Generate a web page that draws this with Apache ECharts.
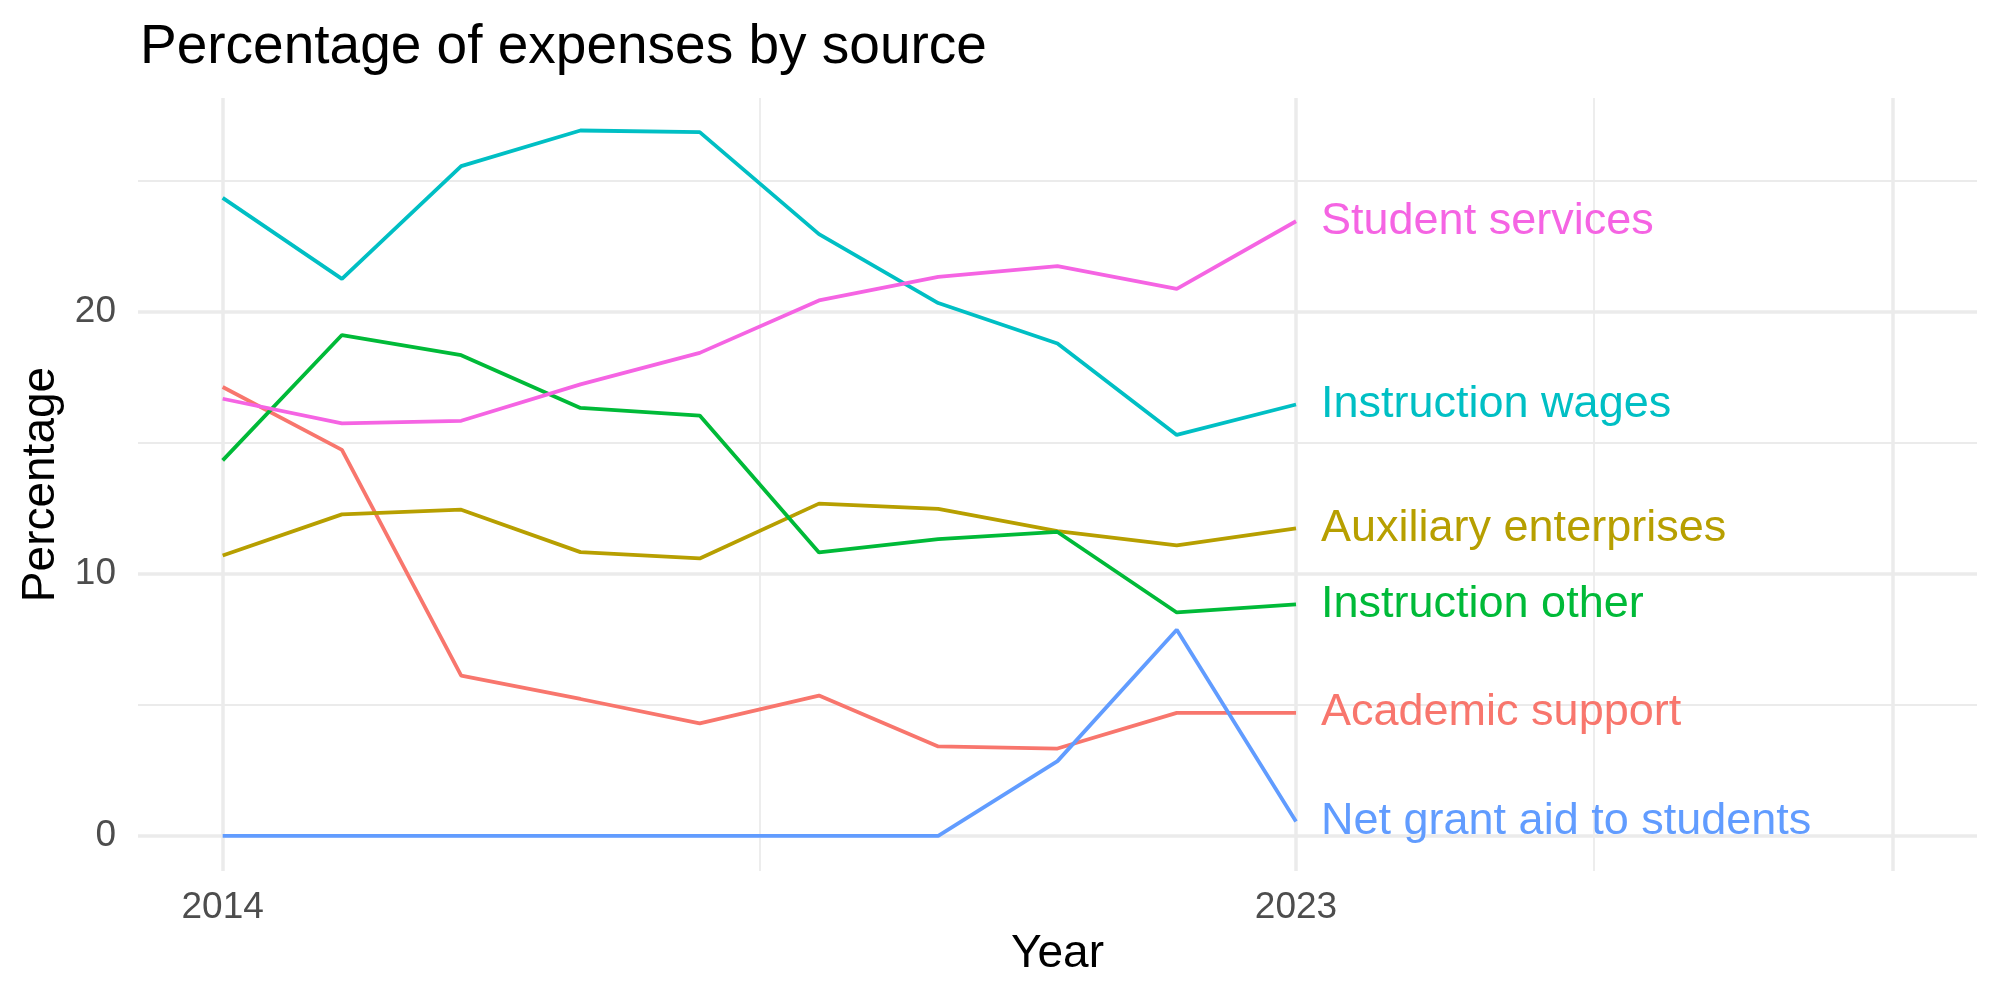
<!DOCTYPE html>
<html>
<head>
<meta charset="utf-8">
<script src="https://cdn.jsdelivr.net/npm/echarts@6/dist/echarts.min.js"></script>
<style>
  html, body { margin: 0; padding: 0; background: #fff; }
  #chart { width: 2000px; height: 1000px; }
</style>
</head>
<body>
<div id="chart"></div>
<script>
// data
var years = [2014, 2015, 2016, 2017, 2018, 2019, 2020, 2021, 2022, 2023];
var academicSupport = [17.12, 14.72, 6.11, 5.22, 4.29, 5.35, 3.41, 3.33, 4.69, 4.69];
var auxiliaryEnterprises = [10.69, 12.26, 12.44, 10.82, 10.58, 12.67, 12.47, 11.62, 11.08, 11.73];
var instructionOther = [14.32, 19.10, 18.33, 16.32, 16.03, 10.81, 11.32, 11.59, 8.52, 8.83];
var instructionWages = [24.33, 21.24, 25.54, 26.90, 26.84, 22.95, 20.32, 18.78, 15.29, 16.45];
var netGrantAid = [0, 0, 0, 0, 0, 0, 0, 2.85, 7.86, 0.55];
var studentServices = [16.67, 15.73, 15.83, 17.22, 18.42, 20.42, 21.32, 21.73, 20.86, 23.44];

var seriesNames = ['Academic support', 'Auxiliary enterprises', 'Instruction other',
                   'Instruction wages', 'Net grant aid to students', 'Student services'];
var seriesValues = [academicSupport, auxiliaryEnterprises, instructionOther,
                    instructionWages, netGrantAid, studentServices];
var colors = ['#F8766D', '#B79F00', '#00BA38', '#00BFC4', '#619CFF', '#F564E3'];

var xLabelYears = [2014, 2023];
var xMajorGrid = [2014, 2023, 2028];
var xMinorGrid = [2018.5, 2025.5];
var yLabels = [0, 10, 20];
var yMinorGrid = [5, 15, 25];

var FONT = 'Liberation Sans, Arial, sans-serif';
var GRID = '#EBEBEB';

var chart = echarts.init(document.getElementById('chart'));

var series = seriesNames.map(function (name, i) {
    return {
        name: name,
        type: 'line',
        xAxisIndex: 0,
        yAxisIndex: 0,
        showSymbol: false,
        symbol: 'none',
        smooth: false,
        z: 3,
        lineStyle: { color: colors[i], width: 3.8 },
        itemStyle: { color: colors[i] },
        endLabel: {
            show: true,
            formatter: '{a}',
            color: colors[i],
            fontFamily: FONT,
            fontSize: 45,
            distance: 25
        },
        data: years.map(function (y, k) { return [y, seriesValues[i][k]]; })
    };
});

var option = {
    animation: false,
    backgroundColor: '#ffffff',
    title: {
        text: 'Percentage of expenses by source',
        left: 140,
        top: 20,
        padding: 0,
        textStyle: {
            color: '#000',
            fontFamily: FONT,
            fontSize: 55,
            fontWeight: 'normal'
        }
    },
    grid: {
        left: 138,
        right: 23,
        top: 98,
        bottom: 129,
        containLabel: false
    },
    xAxis: [{
        type: 'value',
        min: 2013.29,
        max: 2028.71,
        name: 'Year',
        nameLocation: 'middle',
        nameGap: 59,
        nameTextStyle: { color: '#000', fontFamily: FONT, fontSize: 46 },
        axisLine: { show: false },
        axisTick: { show: false, customValues: xMajorGrid },
        axisLabel: {
            customValues: xLabelYears,
            formatter: function (v) { return String(v); },
            color: '#4D4D4D',
            fontFamily: FONT,
            fontSize: 37,
            margin: 18
        },
        splitLine: { show: true, lineStyle: { color: GRID, width: 3.5 } }
    }, {
        type: 'value',
        min: 2013.29,
        max: 2028.71,
        position: 'bottom',
        axisLine: { show: false },
        axisTick: { show: false, customValues: xMinorGrid },
        axisLabel: { show: false },
        splitLine: { show: true, lineStyle: { color: GRID, width: 1.8 } }
    }],
    yAxis: [{
        type: 'value',
        min: -1.34,
        max: 28.14,
        name: 'Percentage',
        nameLocation: 'middle',
        nameGap: 73,
        nameRotate: 90,
        nameTextStyle: { color: '#000', fontFamily: FONT, fontSize: 46 },
        axisLine: { show: false },
        axisTick: { show: false, customValues: yLabels },
        axisLabel: {
            customValues: yLabels,
            color: '#4D4D4D',
            fontFamily: FONT,
            fontSize: 37,
            margin: 22
        },
        splitLine: { show: true, lineStyle: { color: GRID, width: 3.5 } }
    }, {
        type: 'value',
        min: -1.34,
        max: 28.14,
        position: 'left',
        axisLine: { show: false },
        axisTick: { show: false, customValues: yMinorGrid },
        axisLabel: { show: false },
        splitLine: { show: true, lineStyle: { color: GRID, width: 1.8 } }
    }],
    series: series
};

chart.setOption(option);
</script>
</body>
</html>
